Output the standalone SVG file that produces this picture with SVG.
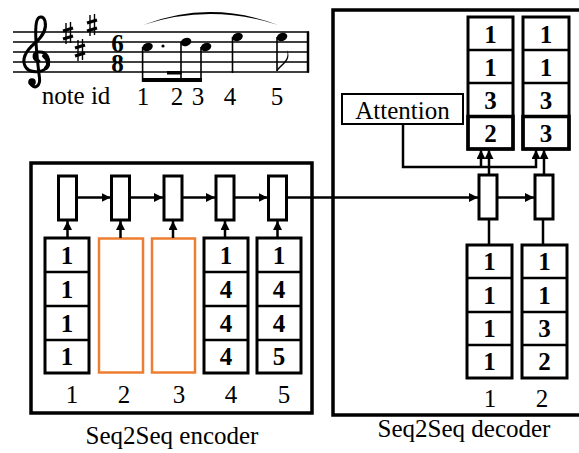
<svg xmlns="http://www.w3.org/2000/svg" width="579" height="453" viewBox="0 0 579 453">
  <style>
    .txt { font-family: "Liberation Serif", "Times New Roman", serif; font-size: 25px; fill: #000; text-anchor: middle; }
    .num { font-weight: bold; }
    .frame { fill: none; stroke: #000; stroke-width: 3.5; }
    .stack { fill: #fff; stroke: #000; stroke-width: 3; }
    .div { stroke: #000; stroke-width: 2.5; }
    .cell { fill: #fff; stroke: #000; stroke-width: 3; }
    .empty { fill: #fff; stroke: #ED7D31; stroke-width: 2.5; }
    .conn { fill: none; stroke: #000; stroke-width: 2.5; }
    .staff { stroke: #000; stroke-width: 1.3; }
    .stem { stroke: #000; stroke-width: 1.6; }
  </style>
  <defs>
    <marker id="arrow" markerUnits="userSpaceOnUse" markerWidth="9" markerHeight="9" viewBox="0 0 10 10" refX="10" refY="5" orient="auto">
      <path d="M0,0 L10,5 L0,10 z" fill="#000"/>
    </marker>
    <g id="sharp" stroke="#000">
      <line x1="-2" y1="-10" x2="-2" y2="11" stroke-width="1.4"/>
      <line x1="2.5" y1="-11" x2="2.5" y2="10" stroke-width="1.4"/>
      <line x1="-5" y1="-2" x2="5" y2="-5" stroke-width="3"/>
      <line x1="-5" y1="6" x2="5" y2="3" stroke-width="3"/>
    </g>
  </defs>
  <rect width="579" height="453" fill="#fff"/>

  <!-- Score excerpt -->
  <g id="score">
    <g id="staff-lines">
      <line class="staff" x1="13" y1="32" x2="309" y2="32"/>
      <line class="staff" x1="13" y1="42" x2="309" y2="42"/>
      <line class="staff" x1="13" y1="52" x2="309" y2="52"/>
      <line class="staff" x1="13" y1="62" x2="309" y2="62"/>
      <line class="staff" x1="13" y1="72" x2="309" y2="72"/>
      <line x1="308" y1="31.5" x2="308" y2="72.5" stroke="#000" stroke-width="2.5"/>
    </g>
    <!-- treble clef -->
    <g id="clef" fill="none" stroke="#000" stroke-linecap="round">
      <path d="M39 61 C33 61,32 53,38.5 52 C47 51,51 60,47 67 C43 73,29 74,25 66 C21 57,28 49,35 43 C42 37,47 29,45 21 C43 15,38 16,36.5 22 C35 29,36 50,39.5 78 C40.5 86,35 89,31.5 85" stroke-width="3"/>
      <path d="M44 56 C49 60,49 66,46 68" stroke-width="4"/>
      <circle cx="32" cy="82" r="3.8" fill="#000" stroke="none"/>
    </g>
    <!-- key signature: three sharps -->
    <g id="sharps">
      <use href="#sharp" transform="translate(68,33)"/>
      <use href="#sharp" transform="translate(80,50)"/>
      <use href="#sharp" transform="translate(92,25)"/>
    </g>
    <!-- time signature -->
    <g id="time-sig">
      <text class="txt num" font-size="27"><tspan x="117.5" y="52">6</tspan><tspan x="117.5" y="71.5">8</tspan></text>
    </g>
    <!-- notes -->
    <g id="notes" fill="#000">
      <ellipse cx="147.5" cy="47" rx="5.5" ry="4" transform="rotate(-22 147.5 47)"/>
      <circle cx="163" cy="46" r="1.6"/>
      <ellipse cx="186" cy="42" rx="5.5" ry="4" transform="rotate(-22 186 42)"/>
      <ellipse cx="206" cy="47" rx="5.5" ry="4" transform="rotate(-22 206 47)"/>
      <ellipse cx="237.5" cy="37" rx="5.5" ry="4" transform="rotate(-22 237.5 37)"/>
      <ellipse cx="282" cy="37" rx="5.5" ry="4" transform="rotate(-22 282 37)"/>
      <line class="stem" x1="142.6" y1="47" x2="142.6" y2="82"/>
      <line class="stem" x1="181" y1="42" x2="181" y2="82"/>
      <line class="stem" x1="201" y1="47" x2="201" y2="82"/>
      <line class="stem" x1="232.5" y1="37" x2="232.5" y2="73"/>
      <line class="stem" x1="277" y1="37" x2="277" y2="71"/>
      <rect x="142" y="78" width="60" height="4"/>
      <rect x="167" y="71" width="14.5" height="3.5"/>
      <path d="M276.5 71 C279 64,290 62,287 50 C292 60,283 64,277.5 71 z"/>
      <path d="M143 25 Q210 -1 278 25 Q210 3 143 25 z"/>
    </g>
    <g id="note-ids">
      <text class="txt" x="76" y="104">note id</text>
      <text class="txt" x="143" y="105">1</text>
      <text class="txt" x="177" y="105">2</text>
      <text class="txt" x="198" y="105">3</text>
      <text class="txt" x="230" y="105">4</text>
      <text class="txt" x="277" y="105">5</text>
    </g>
  </g>

  <!-- Encoder -->
  <g id="encoder">
    <rect class="frame" x="31" y="163" width="281" height="250"/>
    <text class="txt" x="172" y="444" font-size="26">Seq2Seq encoder</text>
  </g>
  <g id="enc-input-1">
    <rect class="stack" x="45" y="238" width="44" height="135"/>
    <line class="div" x1="45" y1="272" x2="89" y2="272"/>
    <line class="div" x1="45" y1="306" x2="89" y2="306"/>
    <line class="div" x1="45" y1="340" x2="89" y2="340"/>
    <text class="txt num" x="67" y="264">1</text>
    <text class="txt num" x="67" y="298">1</text>
    <text class="txt num" x="67" y="332">1</text>
    <text class="txt num" x="67" y="365">1</text>
    <text class="txt" x="72" y="403">1</text>
  </g>
  <g id="enc-input-2">
    <rect class="empty" x="99" y="238.5" width="44" height="134"/>
    <text class="txt" x="124" y="403">2</text>
  </g>
  <g id="enc-input-3">
    <rect class="empty" x="152" y="238.5" width="43" height="134"/>
    <text class="txt" x="179" y="403">3</text>
  </g>
  <g id="enc-input-4">
    <rect class="stack" x="204" y="238" width="44" height="135"/>
    <line class="div" x1="204" y1="272" x2="248" y2="272"/>
    <line class="div" x1="204" y1="306" x2="248" y2="306"/>
    <line class="div" x1="204" y1="340" x2="248" y2="340"/>
    <text class="txt num" x="226" y="264">1</text>
    <text class="txt num" x="226" y="298">4</text>
    <text class="txt num" x="226" y="332">4</text>
    <text class="txt num" x="226" y="365">4</text>
    <text class="txt" x="231" y="403">4</text>
  </g>
  <g id="enc-input-5">
    <rect class="stack" x="257" y="238" width="44" height="135"/>
    <line class="div" x1="257" y1="272" x2="301" y2="272"/>
    <line class="div" x1="257" y1="306" x2="301" y2="306"/>
    <line class="div" x1="257" y1="340" x2="301" y2="340"/>
    <text class="txt num" x="279" y="264">1</text>
    <text class="txt num" x="279" y="298">4</text>
    <text class="txt num" x="279" y="332">4</text>
    <text class="txt num" x="279" y="365">5</text>
    <text class="txt" x="284" y="403">5</text>
  </g>
  <g id="enc-cell-1"><rect class="cell" x="58.5" y="176" width="18" height="44"/></g>
  <g id="enc-cell-2"><rect class="cell" x="111.5" y="176" width="18" height="44"/></g>
  <g id="enc-cell-3"><rect class="cell" x="164" y="176" width="18" height="44"/></g>
  <g id="enc-cell-4"><rect class="cell" x="216" y="176" width="18" height="44"/></g>
  <g id="enc-cell-5"><rect class="cell" x="268.5" y="176" width="18" height="44"/></g>

  <!-- Decoder -->
  <g id="decoder">
    <rect class="frame" x="333" y="10" width="260" height="405"/>
    <text class="txt" x="464" y="437" font-size="26">Seq2Seq decoder</text>
  </g>
  <g id="attention">
    <rect x="342" y="94" width="121" height="30" fill="#fff" stroke="#000" stroke-width="2"/>
    <text class="txt" x="402.5" y="119">Attention</text>
  </g>
  <g id="dec-output-1">
    <rect class="stack" x="468" y="17" width="45" height="132" stroke-width="2.5"/>
    <line class="div" x1="468" y1="50" x2="513" y2="50" stroke-width="2"/>
    <line class="div" x1="468" y1="83" x2="513" y2="83" stroke-width="2"/>
    <rect x="468" y="116.5" width="45" height="32.5" fill="none" stroke="#000" stroke-width="3.5"/>
    <text class="txt num" x="490.5" y="43">1</text>
    <text class="txt num" x="490.5" y="76">1</text>
    <text class="txt num" x="490.5" y="109">3</text>
    <text class="txt num" x="490.5" y="142">2</text>
  </g>
  <g id="dec-output-2">
    <rect class="stack" x="523" y="17" width="46" height="132" stroke-width="2.5"/>
    <line class="div" x1="523" y1="50" x2="569" y2="50" stroke-width="2"/>
    <line class="div" x1="523" y1="83" x2="569" y2="83" stroke-width="2"/>
    <rect x="523" y="116.5" width="46" height="32.5" fill="none" stroke="#000" stroke-width="3.5"/>
    <text class="txt num" x="546" y="43">1</text>
    <text class="txt num" x="546" y="76">1</text>
    <text class="txt num" x="546" y="109">3</text>
    <text class="txt num" x="546" y="142">3</text>
  </g>
  <g id="dec-cell-1"><rect class="cell" x="479" y="175" width="18" height="44"/></g>
  <g id="dec-cell-2"><rect class="cell" x="535" y="175" width="18" height="44"/></g>
  <g id="dec-input-1">
    <rect class="stack" x="467" y="245" width="45" height="133"/>
    <line class="div" x1="467" y1="278" x2="512" y2="278"/>
    <line class="div" x1="467" y1="312" x2="512" y2="312"/>
    <line class="div" x1="467" y1="345" x2="512" y2="345"/>
    <text class="txt num" x="489.5" y="270">1</text>
    <text class="txt num" x="489.5" y="304">1</text>
    <text class="txt num" x="489.5" y="337">1</text>
    <text class="txt num" x="489.5" y="370">1</text>
    <text class="txt" x="490" y="407">1</text>
  </g>
  <g id="dec-input-2">
    <rect class="stack" x="522" y="245" width="45" height="133"/>
    <line class="div" x1="522" y1="278" x2="567" y2="278"/>
    <line class="div" x1="522" y1="312" x2="567" y2="312"/>
    <line class="div" x1="522" y1="345" x2="567" y2="345"/>
    <text class="txt num" x="544.5" y="270">1</text>
    <text class="txt num" x="544.5" y="304">1</text>
    <text class="txt num" x="544.5" y="337">3</text>
    <text class="txt num" x="544.5" y="370">2</text>
    <text class="txt" x="542" y="407">2</text>
  </g>

  <!-- Connectors -->
  <g id="connectors" class="conn">
    <!-- encoder inputs to cells -->
    <line x1="67.5" y1="238" x2="67.5" y2="221" marker-end="url(#arrow)"/>
    <line x1="120.5" y1="238" x2="120.5" y2="221" marker-end="url(#arrow)"/>
    <line x1="173" y1="238" x2="173" y2="221" marker-end="url(#arrow)"/>
    <line x1="225" y1="238" x2="225" y2="221" marker-end="url(#arrow)"/>
    <line x1="277.5" y1="238" x2="277.5" y2="221" marker-end="url(#arrow)"/>
    <!-- encoder recurrence -->
    <line x1="77" y1="197.5" x2="110.5" y2="197.5" marker-end="url(#arrow)"/>
    <line x1="130" y1="197.5" x2="163" y2="197.5" marker-end="url(#arrow)"/>
    <line x1="182.5" y1="197.5" x2="215" y2="197.5" marker-end="url(#arrow)"/>
    <line x1="234.5" y1="197.5" x2="267.5" y2="197.5" marker-end="url(#arrow)"/>
    <!-- encoder state to decoder -->
    <line x1="287" y1="197.5" x2="478" y2="197.5" marker-end="url(#arrow)"/>
    <line x1="497.5" y1="197.5" x2="534" y2="197.5" marker-end="url(#arrow)"/>
    <!-- decoder inputs to cells -->
    <line x1="489" y1="245" x2="489" y2="219"/>
    <line x1="543" y1="245" x2="543" y2="219"/>
    <!-- decoder cells to outputs -->
    <line x1="489" y1="175" x2="489" y2="150" marker-end="url(#arrow)"/>
    <line x1="544" y1="175" x2="544" y2="150" marker-end="url(#arrow)"/>
    <!-- attention to outputs -->
    <polyline points="403,124 403,167 536,167 536,150" marker-end="url(#arrow)"/>
    <line x1="481" y1="167" x2="481" y2="150" marker-end="url(#arrow)"/>
  </g>
</svg>
